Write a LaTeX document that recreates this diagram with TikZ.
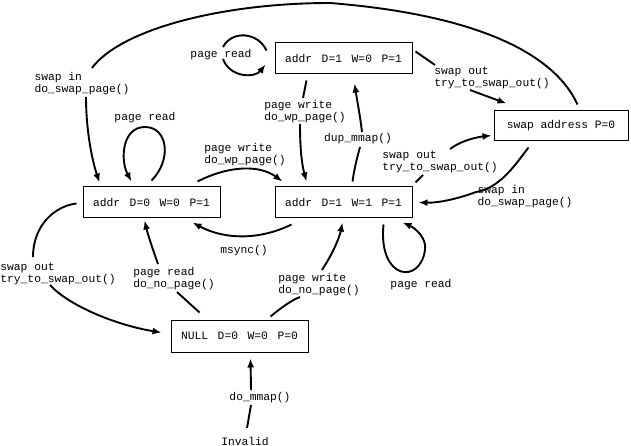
\documentclass[tikz,border=0pt]{standalone}
\usepackage{fontspec}
\setmonofont{Liberation Mono}
\usetikzlibrary{arrows.meta}
\newcommand\gp{\hspace{0.85em}}
\begin{document}
\begin{tikzpicture}[x=1pt,y=-1pt,
  txt/.style={font=\ttfamily\fontsize{11.3}{12}\selectfont},
  box/.style={txt,draw,line width=1pt,minimum width=137pt,minimum height=31pt,inner sep=0pt},
  lbl/.style={txt,align=left,inner sep=0pt},
  ln/.style={line width=1.9pt},
  arr/.style={line width=1.9pt,-{Latex[length=9pt,width=7pt]}}]
\useasboundingbox (0,0) rectangle (631,446);
% states
\node[box] (A) at (343.5,58.5) {addr\gp D=1\gp W=0\gp P=1};
\node[box] (B) at (151.5,202.5) {addr\gp D=0\gp W=0\gp P=1};
\node[box] (C) at (343.5,202.5) {addr\gp D=1\gp W=1\gp P=1};
\node[box,minimum width=134pt,minimum height=30pt] (D) at (561,126) {swap address P=0};
\node[box,minimum height=32pt] (E) at (239.5,336) {NULL\gp D=0\gp W=0\gp P=0};
\node[lbl] (I) at (245,441) {Invalid};
% labels
\node[lbl] (L1) at (82,84) {swap in\\do\_swap\_page()};
\node[lbl] (L2) at (221,55) {page read};
\node[lbl] (L3) at (305,112) {page write\\do\_wp\_page()};
\node[lbl] (L4) at (358,139) {dup\_mmap()};
\node[lbl] (L5) at (492,78) {swap out\\try\_to\_swap\_out()};
\node[lbl] (L6) at (440,162) {swap out\\try\_to\_swap\_out()};
\node[lbl] (L7) at (525,197) {swap in\\do\_swap\_page()};
\node[lbl] (L8) at (145,118) {page read};
\node[lbl] (L9) at (245,155) {page write\\do\_wp\_page()};
\node[lbl] (L10) at (244,251) {msync()};
\node[lbl] (L11) at (58,274) {swap out\\try\_to\_swap\_out()};
\node[lbl] (L12) at (174,279) {page read\\do\_no\_page()};
\node[lbl] (L13) at (319,285) {page write\\do\_no\_page()};
\node[lbl] (L14) at (421,285) {page read};
\node[lbl] (L15) at (260,398) {do\_mmap()};
% E1 swap address -> B (swap in)
\draw[ln] ([shift={(84,-6)}]D.north west) .. controls (555,55) and (480,15) .. (330,3)
  .. controls (220,3) and (120,30) .. ([shift={(10,-16)}]L1.center);
\draw[arr] ([shift={(4,13)}]L1.center) .. controls (86,130) and (92,160) .. ([shift={(17,-4)}]B.north west);
% E2 A self loop
\draw[ln] ([shift={(-8,8)}]A.north west) .. controls (258,32) and (232,30) .. ([shift={(2,-8)}]L2.center);
\draw[arr] ([shift={(2,4)}]L2.center) .. controls (230,78) and (255,78) .. ([shift={(-9,22)}]A.north west);
% E3 A -> C
\draw[ln] ([shift={(32,6)}]A.south west) -- ([shift={(-2,-14)}]L3.center);
\draw[arr] ([shift={(-5,12)}]L3.center) .. controls (300,150) and (302,165) .. ([shift={(32,-5)}]C.north west);
% E4 C -> A
\draw[ln] ([shift={(78,-5)}]C.north west) .. controls (354,170) and (357,158) .. ([shift={(2,8)}]L4.center);
\draw[arr] ([shift={(4,-7)}]L4.center) .. controls (360,115) and (357,100) .. ([shift={(80,9)}]A.south west);
% E5 A -> D
\draw[ln] ([shift={(3,9)}]A.north east) -- ([shift={(-57,-13)}]L5.center);
\draw[arr] ([shift={(-22,12)}]L5.center) -- ([shift={(13,-7)}]D.north west);
% E6 C -> D
\draw[ln] ([shift={(3,-4)}]C.north east) -- ([shift={(-17,13)}]L6.center);
\draw[arr] ([shift={(10,-13)}]L6.center) .. controls (462,140) and (478,137) .. ([shift={(-2,25)}]D.north west);
% E7 D -> C
\draw[arr] ([shift={(35,6)}]D.south west) .. controls (515,165) and (500,188) .. ([shift={(-49,-5)}]L7.center)
  .. controls (460,198) and (440,203) .. ([shift={(6,16)}]C.north east);
% E8 B self loop
\draw[arr] ([shift={(69,-6)}]B.north west) .. controls (172,160) and (168,127) .. (145,127)
  .. controls (122,127) and (120,160) .. ([shift={(49,-5)}]B.north west);
% E9 B -> C
\draw[arr] ([shift={(-23,-5)}]B.north east) .. controls (230,165) and (260,165) .. ([shift={(8,-5)}]C.north west);
% E10 C -> B
\draw[arr] ([shift={(17,6)}]C.south west) .. controls (260,240) and (225,240) .. ([shift={(-28,4)}]B.south east);
% E11 B -> E
\draw[ln] ([shift={(-6,17)}]B.north west) .. controls (55,206) and (33,225) .. ([shift={(-25,-17)}]L11.center);
\draw[arr] ([shift={(-8,11)}]L11.center) .. controls (68,305) and (115,325) .. ([shift={(-9,13)}]E.north west);
% E12 E -> B
\draw[ln] ([shift={(29,-7)}]E.north west) -- ([shift={(3,13)}]L12.center);
\draw[arr] ([shift={(-16,-15)}]L12.center) .. controls (153,250) and (148,235) .. ([shift={(62,2)}]B.south west);
% E13 E -> C
\draw[ln] ([shift={(-38,-3)}]E.north east) .. controls (282,307) and (292,300) .. ([shift={(-19,12)}]L13.center);
\draw[arr] ([shift={(3,-15)}]L13.center) .. controls (335,250) and (340,235) .. ([shift={(68,4)}]C.south west);
% E14 C self loop
\draw[arr] ([shift={(109,6)}]C.south west) .. controls (378,280) and (420,285) .. (425,250)
  .. controls (427,238) and (415,228) .. ([shift={(128,4)}]C.south west);
% E15 Invalid -> E
\draw[ln] ([shift={(2,-13)}]I.center) -- ([shift={(-9,7)}]L15.center);
\draw[arr] ([shift={(-9,-8)}]L15.center) -- ([shift={(80,6)}]E.south west);
\end{tikzpicture}
\end{document}
